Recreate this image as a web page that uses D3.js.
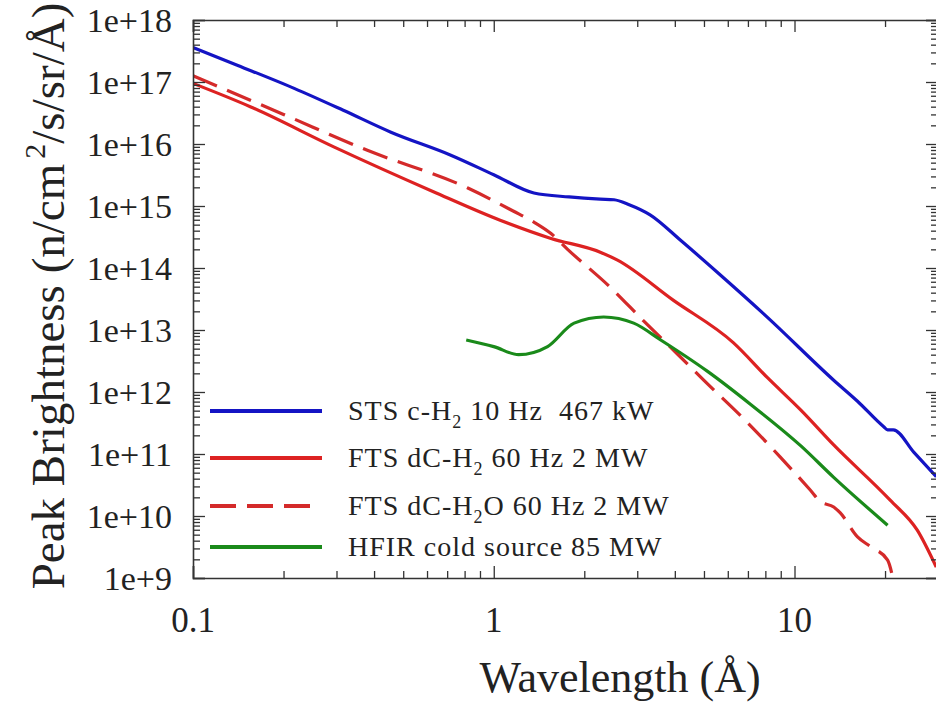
<!DOCTYPE html>
<html lang="en">
<head>
<meta charset="UTF-8">
<title>Peak brightness vs wavelength</title>
<script src="https://cdn.jsdelivr.net/npm/d3@7"></script>
<style>
  body { margin: 0; background: #fff; }
  text { font-family: "Liberation Serif", "Times New Roman", serif; fill: #222; white-space: pre; }
</style>
</head>
<body>
<script>
// wavelength (Å) and peak brightness (n/cm^2/s/sr/Å)
const stsWave = [0.1, 0.141, 0.217, 0.316, 0.455, 0.72, 1.0, 1.36, 1.78, 2.26, 2.51, 2.82, 3.31, 4.18, 5.62, 8.13, 13.5, 16.2, 19.8, 20.4, 21.3, 25.0, 29.6];
const stsPeak = [3.6e17, 1.85e17, 7.9e16, 3.5e16, 1.55e16, 6.6e15, 3.2e15, 1.62e15, 1.4e15, 1.29e15, 1.26e15, 1.05e15, 7.2e14, 2.8e14, 8e13, 1.6e13, 1.55e12, 7.1e11, 2.75e11, 2.45e11, 2.45e11, 1.05e11, 4.3e10];

const ftsH2Wave = [0.1, 0.155, 0.295, 0.63, 1.05, 1.55, 2.26, 2.57, 3.96, 6.27, 8.13, 10.5, 13.5, 20.8, 25.6, 29.6];
const ftsH2Peak = [9.5e16, 4e16, 8.9e15, 1.7e15, 5.9e14, 3e14, 1.8e14, 1.35e14, 3e13, 6.2e12, 1.7e12, 5.1e11, 1.4e11, 1.8e10, 5.9e9, 1.5e9];

const ftsH2OWave = [0.1, 0.2, 0.38, 0.82, 1.16, 1.36, 1.55, 1.76, 2.45, 3.15, 4.08, 4.99, 6.98, 8.97, 11.3, 12.2, 13.5, 14.2, 16.2, 17.9, 20.4, 21.3];
const ftsH2OPeak = [1.26e17, 3e16, 7.9e15, 1.95e15, 8.3e14, 5.5e14, 3.6e14, 2e14, 4.8e13, 1.4e13, 4.1e12, 1.55e12, 3.2e11, 8.9e10, 2.6e10, 1.7e10, 1.4e10, 1.12e10, 4.6e9, 3.2e9, 1.95e9, 9.3e8];

const hfirWave = [0.81, 1.0, 1.21, 1.51, 1.85, 2.32, 2.92, 3.59, 5.14, 7.15, 10.5, 13.5, 20.4];
const hfirPeak = [6.9e12, 5.4e12, 4e12, 5.4e12, 1.29e13, 1.62e13, 1.29e13, 6.9e12, 2.15e12, 6.3e11, 1.35e11, 4.2e10, 7.1e9];

const xTicks = [0.1, 1, 10];
const yTicks = [1e9, 1e10, 1e11, 1e12, 1e13, 1e14, 1e15, 1e16, 1e17, 1e18];
const yTickLabels = ['1e+9', '1e+10', '1e+11', '1e+12', '1e+13', '1e+14', '1e+15', '1e+16', '1e+17', '1e+18'];

const series = [
  { wave: stsWave, peak: stsPeak, color: '#1414c4', dash: null, label: ['STS c-H', '2', ' 10 Hz  467 kW'] },
  { wave: ftsH2Wave, peak: ftsH2Peak, color: '#dd2222', dash: null, label: ['FTS dC-H', '2', ' 60 Hz 2 MW'] },
  { wave: ftsH2OWave, peak: ftsH2OPeak, color: '#d42a2a', dash: '26 11', label: ['FTS dC-H', '2', 'O 60 Hz 2 MW'] },
  { wave: hfirWave, peak: hfirPeak, color: '#1a8a1a', dash: null, label: ['HFIR cold source 85 MW', '', ''] }
];

const W = 936, H = 704;
const m = { left: 193, right: 938, top: 20, bottom: 578 };

const svg = d3.select('body').append('svg')
  .attr('width', W)
  .attr('height', H);

const x = d3.scaleLog().domain([0.1, 30]).range([m.left, m.right]);
const y = d3.scaleLog().domain([1e9, 1e18]).range([m.bottom, m.top]);

// minor tick values for both axes
const xMinor = [];
for (let d = 0.1; d < 30; d *= 10) {
  for (let k = 2; k <= 9; k++) if (d * k <= 30) xMinor.push(d * k);
}
const yMinor = [];
for (let e = 9; e < 18; e++) {
  for (let k = 2; k <= 9; k++) yMinor.push(k * Math.pow(10, e));
}

svg.append('clipPath').attr('id', 'plot')
  .append('rect').attr('x', m.left).attr('y', m.top)
  .attr('width', m.right - m.left).attr('height', m.bottom - m.top);

// curves
const line = d3.line()
  .x(d => x(d[0]))
  .y(d => y(d[1]))
  .curve(d3.curveMonotoneX);

svg.append('g').attr('clip-path', 'url(#plot)')
  .selectAll('path')
  .data(series)
  .join('path')
  .attr('d', s => line(s.wave.map((w, i) => [w, s.peak[i]])))
  .attr('fill', 'none')
  .attr('stroke', s => s.color)
  .attr('stroke-width', 3.2)
  .attr('stroke-linejoin', 'round')
  .attr('stroke-dasharray', s => s.dash);

// axes: ticks inward on all four sides
const tickColor = '#333';
function makeAxis(axis, scale, dir) {
  if (axis === 'x') return dir > 0 ? d3.axisBottom(scale) : d3.axisTop(scale);
  return dir > 0 ? d3.axisRight(scale) : d3.axisLeft(scale);
}
function axisTicks(axis, scale, major, minor, pos, dir) {
  const tr = axis === 'x' ? `translate(0,${pos})` : `translate(${pos},0)`;
  const g = svg.append('g').attr('transform', tr);
  g.call(makeAxis(axis, scale, dir).tickValues(major).tickSize(-12).tickFormat(''));
  const gm = svg.append('g').attr('transform', tr);
  gm.call(makeAxis(axis, scale, dir).tickValues(minor).tickSize(-7).tickFormat(''));
  gm.select('.domain').remove();
  g.select('.domain').attr('stroke', tickColor).attr('stroke-width', 1.6);
}
axisTicks('x', x, xTicks, xMinor, m.bottom, 1);
axisTicks('x', x, xTicks, xMinor, m.top, -1);
axisTicks('y', y, yTicks, yMinor, m.left, -1);
axisTicks('y', y, yTicks, yMinor, m.right, 1);
svg.selectAll('.tick line').attr('stroke', tickColor).attr('stroke-width', 1.3);

// tick labels
svg.append('g').selectAll('text')
  .data(xTicks)
  .join('text')
  .attr('x', d => x(d))
  .attr('y', 632)
  .attr('text-anchor', 'middle')
  .attr('font-size', 35)
  .text(d => d);

svg.append('g').selectAll('text')
  .data(yTicks)
  .join('text')
  .attr('x', 172)
  .attr('y', d => y(d) + 12)
  .attr('text-anchor', 'end')
  .attr('font-size', 34)
  .text((d, i) => yTickLabels[i]);

// axis titles
svg.append('text')
  .attr('x', 620)
  .attr('y', 692)
  .attr('text-anchor', 'middle')
  .attr('font-size', 44)
  .text('Wavelength (Å)');

const yt = svg.append('text')
  .attr('transform', 'translate(64,296) rotate(-90)')
  .attr('text-anchor', 'middle')
  .attr('font-size', 47);
yt.append('tspan').text('Peak Brightness (n/cm');
yt.append('tspan').attr('font-size', 30).attr('dy', -19).attr('dx', 5).text('2');
yt.append('tspan').attr('dy', 19).text('/s/sr/Å)');

// legend
const legY = [411, 458, 506, 547];
const leg = svg.append('g');
series.forEach((s, i) => {
  leg.append('line')
    .attr('x1', 210).attr('x2', s.dash ? 313 : 322)
    .attr('y1', legY[i]).attr('y2', legY[i])
    .attr('stroke', s.color)
    .attr('stroke-width', 4)
    .attr('stroke-dasharray', s.dash);
  const t = leg.append('text')
    .attr('x', 348)
    .attr('y', legY[i] + 9)
    .attr('font-size', 28)
    .attr('letter-spacing', 1);
  t.append('tspan').text(s.label[0]);
  if (s.label[1]) {
    t.append('tspan').attr('font-size', 18).attr('dy', 8).text(s.label[1]);
    t.append('tspan').attr('dy', -8).text(s.label[2]);
  }
});
</script>
</body>
</html>
